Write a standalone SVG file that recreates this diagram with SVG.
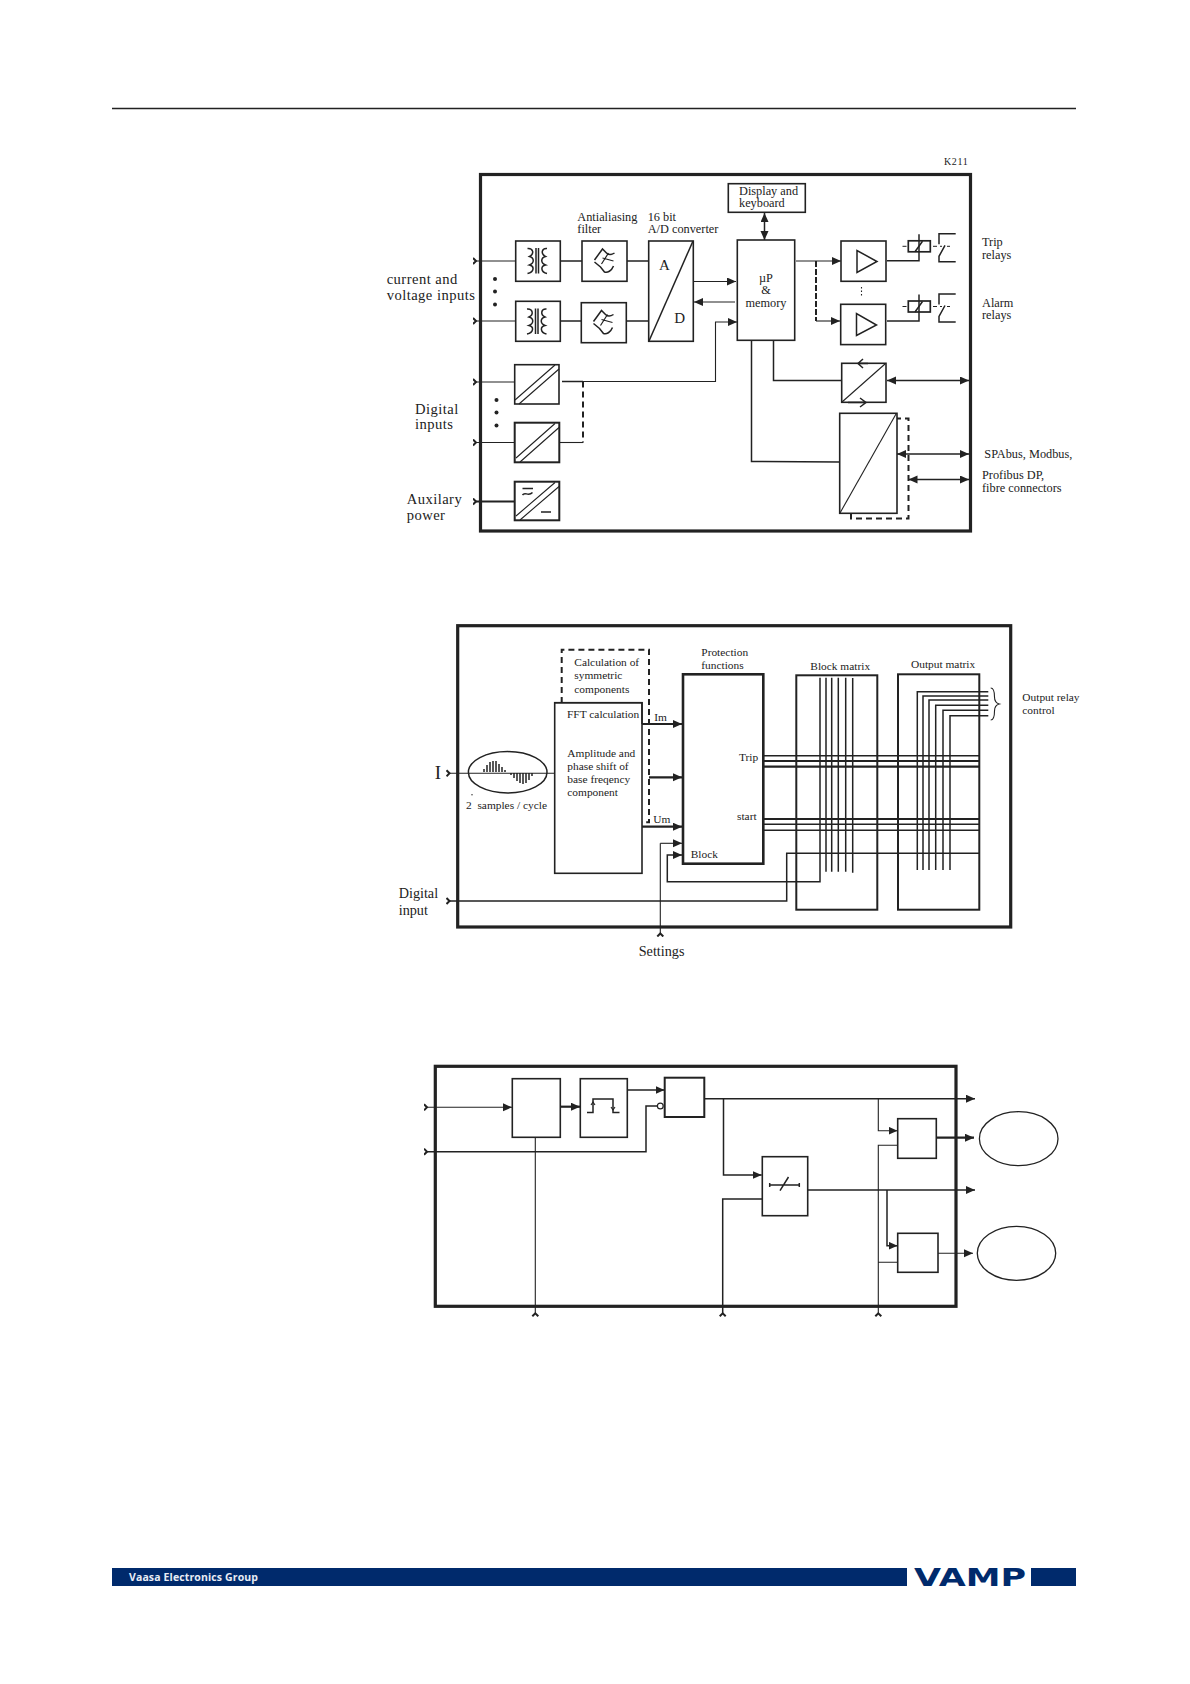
<svg xmlns="http://www.w3.org/2000/svg" width="1190" height="1684" viewBox="0 0 1190 1684">
<style>
text{font-family:"Liberation Serif","Times New Roman",serif;fill:#222}
.s{font-size:11.4px}
.n{font-size:12.3px}
.b{font-size:14.6px;letter-spacing:.45px}
.c{font-size:14.2px}
.box,.fr,.l,.m,.h,.d{fill:none;stroke:#222}
.box{stroke-width:1.6;fill:#fff}
.bx2{stroke-width:2}
.bx3{stroke-width:2.6}
.fr{stroke-width:3.2}
.l{stroke-width:1.1}
.m{stroke-width:1.5}
.h{stroke-width:2.2}
.d{stroke-width:2;stroke-dasharray:6 4}
.ar{marker-end:url(#a)}
.in{marker-start:url(#c)}
.dbl{marker-start:url(#a);marker-end:url(#a)}
.dot{fill:#222}
.nf{fill:none}
</style>
<defs>
<marker id="a" markerUnits="userSpaceOnUse" markerWidth="10" markerHeight="9" refX="9" refY="4" orient="auto-start-reverse"><path d="M0 0L9 4L0 8z" fill="#222"/></marker>
<marker id="c" markerUnits="userSpaceOnUse" markerWidth="6" markerHeight="8" refX="3.500" refY="4" orient="auto"><path d="M.5 1L3.500 4L.5 7" fill="none" stroke="#222" stroke-width="2"/></marker>
<g id="xf" fill="none" stroke="#222" stroke-width="1.500"><path d="M-1.500 -13V12.500M1 -13V12.500"/><path d="M-10 -12.500C-4 -13 -3 -7 -8 -4.500C-3 -3 -3 2 -8 4C-3 5 -3 11 -10 12.500"/><path d="M9.500 -12.500C4 -13 3 -7 8 -4.500C3 -3 3 2 8 4C3 5 3 11 9.500 12.500"/></g>
<g id="flt" fill="none" stroke="#222" stroke-width="1.500"><path d="M-10 -1L-2 -12L2 -8C4 -6 7 -6 10 -8"/><path d="M-10 1L-4 6L0 11C3 12 7 10 9 5"/><path d="M-3 3L4 -8M-2 -3L9 0" stroke-width="1.200"/></g>
<g id="rel" fill="none" stroke="#222"><rect x="-10.700" y="-5.500" width="22" height="11" stroke-width="1.700"/><path d="M0 -12V14.500H-32" stroke-width="1.500"/><path d="M-4 5.500L3.500 -5" stroke-width="1.500"/><path d="M-16.500 0H-12.500M14 0H18M21 0H23M28 0H31" stroke-width="1"/><path d="M36.700 -12.500H20V-2M26 -1L20 10V15.500H36.700" stroke-width="1.500"/></g>
</defs>
<rect width="1190" height="1684" fill="#fff"/>
<path class="m" d="M112 108.500H1076"/>

<g id="diagram1-connectors">
<path class="in l" d="M476 261H516"/><path class="in l" d="M476 321H516"/>
<path class="m" d="M560 261H582M627 261H649M560 321H581M626 321H649"/>
<path class="ar l" d="M692.500 281.500H736"/>
<path class="l ar" d="M735 302H694"/>
<path class="in l" d="M476 382H515"/><path class="in l" d="M476 442.500H515"/><path class="in h" d="M476 501.500H515"/>
<path class="m" d="M562 381.500H583"/>
<path class="l ar" d="M583 381.500H715.500V322H737"/>
<path class="d" d="M583 381.500V442.500"/>
<path class="l" d="M559 442.500H583"/>
<path class="m dbl" d="M764.500 213V240"/>
<path class="l ar" d="M796 261H841"/>
<path class="d" d="M816 261V321" style="stroke-dasharray:6 2"/>
<path class="l ar" d="M816 321H840"/>
<path class="m" d="M773.500 340.500V380.500H842"/>
<path class="m" d="M751.500 340V461.500L840 462"/>
<path class="m dbl" d="M887 380.500H969"/>
<path class="m dbl" d="M897 454H969"/>
<path class="m dbl" d="M908.500 479.500H969"/>
<path class="d" d="M851 513.500V518.500H908.500V418.500H897"/>
</g>
<g id="frame1"><rect class="fr" x="480.500" y="174.500" width="490" height="356.500"/></g>
<g id="xf1"><rect class="box" x="515.700" y="241" width="44.600" height="40.300"/><use href="#xf" x="537.500" y="261"/></g>
<g id="xf2"><rect class="box" x="515.700" y="301.300" width="44.600" height="40"/><use href="#xf" x="537" y="321.500"/></g>
<g id="fl1"><rect class="box" x="582" y="241" width="45" height="40.300"/><use href="#flt" x="604.500" y="261"/></g>
<g id="fl2"><rect class="box" x="581.300" y="302.700" width="45" height="40"/><use href="#flt" x="603.500" y="322.500"/></g>
<g id="ad"><rect class="box" x="648.700" y="241" width="44.600" height="100.300"/><path class="m" d="M649 341L693 241"/><text x="659" y="270" font-size="15">A</text><text x="674.300" y="322.700" font-size="15">D</text></g>
<g id="display"><rect class="box" x="728.300" y="183.700" width="77" height="28.600"/><text class="n" x="739" y="195">Display and</text><text class="n" x="739" y="207.300">keyboard</text></g>
<g id="up"><rect class="box" x="737.300" y="240" width="57.400" height="100.300"/><text class="n" x="766" y="281.700" text-anchor="middle">µP</text><text class="n" x="766" y="294.300" text-anchor="middle">&amp;</text><text class="n" x="766" y="306.700" text-anchor="middle">memory</text></g>
<g id="amp1"><rect class="box" x="841" y="241" width="45" height="40.300"/><path class="m" d="M857 250.500V272.500L877 261.500z"/></g>
<g id="amp2"><rect class="box" x="840.700" y="304.300" width="45" height="40.300"/><path class="m" d="M856.500 313.500V335.500L876.500 325z"/></g>
<path class="l" d="M861.500 287V297" stroke-dasharray="1.500 2" id="ampdots"/>
<g id="relay1"><use href="#rel" x="919" y="246.300"/></g>
<g id="relay2"><use href="#rel" x="919" y="306.500"/></g>
<g id="conv"><rect class="box" x="841.700" y="363.300" width="44.300" height="39"/><path class="l" d="M842 402L885 364"/><path class="m" d="M868 363.500H858M863 359L858 363.500L863 368M848 402.500H864M860 398L866 402.500L860 407"/></g>
<g id="serial"><rect class="box" x="839.700" y="413.300" width="57.300" height="100"/><path class="l" d="M840 513L896 414"/></g>
<g id="di1"><rect class="box" x="514.700" y="364.700" width="44.300" height="39.300"/><path class="l" d="M515 400L555 365M519 404L559 369"/></g>
<g id="di2"><rect class="box bx2" x="514.700" y="422.700" width="44.600" height="39.600"/><path class="l" d="M516 458L555 423.500M520 462L559 427.500"/></g>
<g id="aux"><rect class="box bx2" x="514.700" y="481.700" width="44.600" height="38.600"/><path class="l" d="M516 516L555 482.500M520 520L559 486.500"/><path class="m" d="M522.500 488.500H533M541 512H551"/><path class="m" d="M522.500 495C525 491 528 497 532.500 492.500"/></g>
<g id="dots1"><circle class="dot" cx="495" cy="279" r="2"/><circle class="dot" cx="495" cy="291.500" r="2"/><circle class="dot" cx="495" cy="304.500" r="2"/><circle class="dot" cx="496.500" cy="400" r="2"/><circle class="dot" cx="496.500" cy="412.500" r="2"/><circle class="dot" cx="496.500" cy="425.500" r="2"/></g>
<g id="labels1">
<text class="n" x="577.300" y="221.300">Antialiasing</text><text class="n" x="577.300" y="233.300">filter</text>
<text class="n" x="647.700" y="220.700">16 bit</text><text class="n" x="647.700" y="233">A/D converter</text>
<text x="944" y="165" font-size="10" letter-spacing=".6">K211</text>
<text class="n" x="982" y="246">Trip</text><text class="n" x="982" y="258.700">relays</text>
<text class="n" x="982" y="306.700">Alarm</text><text class="n" x="982" y="319.300">relays</text>
<text class="n" x="984.300" y="457.800">SPAbus, Modbus,</text>
<text class="n" x="982" y="479.300">Profibus DP,</text><text class="n" x="982" y="491.700">fibre connectors</text>
<text class="b" x="386.700" y="284">current and</text><text class="b" x="386.700" y="299.700">voltage inputs</text>
<text class="b" x="415" y="413.800">Digital</text><text class="b" x="415" y="429.200">inputs</text>
<text class="b" x="406.700" y="503.800">Auxilary</text><text class="b" x="406.700" y="519.500">power</text>
</g>

<g id="diagram2-connectors">
<path class="in l" d="M449.500 773.300H555"/>
<path class="h ar" d="M642 724H682"/><path class="h ar" d="M649 777.300H682"/><path class="h ar" d="M642 826.700H682"/>
<path class="l in" d="M660.300 933.500V843.300"/><path class="l ar" d="M660.300 843.300H682"/>
<path class="m ar" d="M820 677.700V881.700H667.300V855H682"/>
<path class="m in" d="M449.500 901H786.700V853.300H979.300"/>
<path class="m" d="M826 677.700V871.700M831.700 677.700V871.700M838.300 677.700V871.700M845.700 677.700V871.700M852.700 678V872.700"/>
<path class="m" d="M763 755.700H979.300"/><path class="h" d="M763 761H979.300M763 766.700H979.300M763 819H979.300"/><path class="m" d="M763 824.300H979.300M763 830.300H979.300"/>
<path class="m" d="M917.300 870V691.700H988.300M923 870V696H988.300M929 870V700H988.300M935.700 870V705.300H988.300M943 870V710.300H988.300M950 870V715.700H988.300"/>
<path class="d" d="M561.700 703V649.700H649V822.300H642"/>
</g>
<g id="frame2"><rect class="fr" x="457.700" y="625.700" width="553" height="301.300"/></g>
<g id="ellipse"><ellipse cx="507.700" cy="772.300" rx="39.300" ry="20.700" fill="none" stroke="#222" stroke-width="1.500"/><path class="m" d="M484 772V769M487 772V765M490 772V762M493 772V761M496 772V761M499 772V764M502 772V767M505 772V770M511 773V775M514 773V778M517 773V781M520 773V783M523 773V784M526 773V783M529 773V780M532 773V776" stroke-width="1.200"/></g>
<g id="fft"><rect class="box nf" x="554.700" y="702.700" width="87.300" height="170.600"/><path class="m" d="M554.700 702.700H642V724"/><text class="s" x="567" y="717.700">FFT calculation</text><text class="s" x="567.300" y="756.700">Amplitude and</text><text class="s" x="567.300" y="770">phase shift of</text><text class="s" x="567.300" y="783.300">base freqency</text><text class="s" x="567.300" y="796.300">component</text></g>
<g id="prot"><rect class="box bx3 nf" x="683" y="674.300" width="80.300" height="189.400"/><text class="s" x="739" y="761">Trip</text><text class="s" x="737" y="820.300">start</text><text class="s" x="690.700" y="857.700">Block</text></g>
<g id="blockm"><rect class="box bx2 nf" x="796.300" y="675.300" width="81" height="234.400"/></g>
<g id="outm"><rect class="box bx2 nf" x="898" y="674.300" width="81.300" height="235.400"/></g>
<path class="l" id="brace" d="M990.700 688C994 688 994.500 692 994.500 697C994.500 701 995.500 703 999.300 704C995.500 705 994.500 707 994.500 711C994.500 716 994 720 990.700 720"/>
<g id="labels2">
<text class="s" x="574.300" y="666">Calculation of</text><text class="s" x="574.300" y="679.300">symmetric</text><text class="s" x="574.300" y="692.700">components</text>
<text class="s" x="701.300" y="656">Protection</text><text class="s" x="701.300" y="669.300">functions</text>
<text class="s" x="810.300" y="670">Block matrix</text><text class="s" x="911" y="668.300">Output matrix</text>
<text class="s" x="1022.300" y="701">Output relay</text><text class="s" x="1022.300" y="714">control</text>
<text class="s" x="654.300" y="721">Im</text><text class="s" x="653.300" y="822.500">Um</text>
<text x="434.700" y="779.300" font-size="19">I</text>
<text class="s" x="466" y="809" xml:space="preserve">2  samples / cycle</text>
<circle class="dot" cx="472" cy="794.700" r=".7"/>
<text class="c" x="398.700" y="898.300">Digital</text><text class="c" x="398.700" y="914.700">input</text>
<text class="c" x="638.700" y="955.700">Settings</text>
</g>

<g id="diagram3-connectors">
<path class="in l ar" d="M427 1107.300H512"/>
<path class="in m" d="M427 1151.700H646V1106H657.300"/>
<path class="h ar" d="M560.300 1106.700H580"/><path class="m ar" d="M627.300 1090H664.500"/>
<path class="m ar" d="M704.300 1098.700H975"/>
<path class="m ar" d="M723.500 1098.700V1175H761.700"/>
<path class="m in" d="M722.700 1313.300V1199H762"/>
<path class="in l" d="M535.300 1313.300V1137.300"/>
<path class="m ar" d="M807.700 1190H975"/>
<path class="l ar" d="M878.300 1098.700V1130.700H897.500"/>
<path class="in l" d="M878.300 1313.300V1145.300H897.700M878.300 1262.300H897.700"/>
<path class="m ar" d="M887 1190V1245.700H897.500"/>
<path class="h ar" d="M936.300 1137.700H974"/>
<path class="l ar" d="M938 1253.300H973"/>
</g>
<g id="frame3"><rect class="fr" x="435.300" y="1066.300" width="520.700" height="240"/></g>
<g id="b3a"><rect class="box" x="512.300" y="1078.700" width="48" height="58.600"/></g>
<g id="b3b"><rect class="box" x="580.300" y="1078.700" width="47" height="58.600"/><path class="m" d="M587 1112.500H593V1099H613V1112.500H619.500"/><path class="l" d="M591 1105L593 1102L595 1105M611 1107L613 1110L615 1107"/></g>
<g id="b3c"><rect class="box bx2" x="664.700" y="1077.700" width="39.600" height="39.300"/><circle cx="660.300" cy="1106" r="2.900" fill="#fff" stroke="#222" stroke-width="1.200"/></g>
<g id="b3sw"><rect class="box" x="762.300" y="1156.700" width="45.400" height="59"/><path class="m" d="M769.700 1185H799.300M769.700 1183V1187M799.300 1183V1187M780 1190.700L788.500 1177"/></g>
<g id="b3d"><rect class="box" x="897.700" y="1118.700" width="38.600" height="39.600"/></g>
<g id="b3e"><rect class="box" x="897.700" y="1233.300" width="40.300" height="39"/></g>
<g id="oval1"><ellipse cx="1018.700" cy="1138.700" rx="39.300" ry="27" fill="none" stroke="#222" stroke-width="1.300"/></g>
<g id="oval2"><ellipse cx="1016.500" cy="1253.300" rx="39.200" ry="27" fill="none" stroke="#222" stroke-width="1.300"/></g>

<g id="footer">
<rect x="112" y="1568" width="795" height="18" fill="#002a6c"/>
<rect x="1031" y="1568" width="45" height="18" fill="#002a6c"/>
<text x="129" y="1581" font-size="10.500" font-weight="700" textLength="129" style="font-family:'Open Sans','Liberation Sans',sans-serif;fill:#e8edf5">Vaasa Electronics Group</text>
<text x="914" y="1586" font-size="24.500" font-weight="700" textLength="112" lengthAdjust="spacingAndGlyphs" style="font-family:'DejaVu Sans','Liberation Sans',sans-serif;fill:#002a6c">VAMP</text>
</g>
</svg>
